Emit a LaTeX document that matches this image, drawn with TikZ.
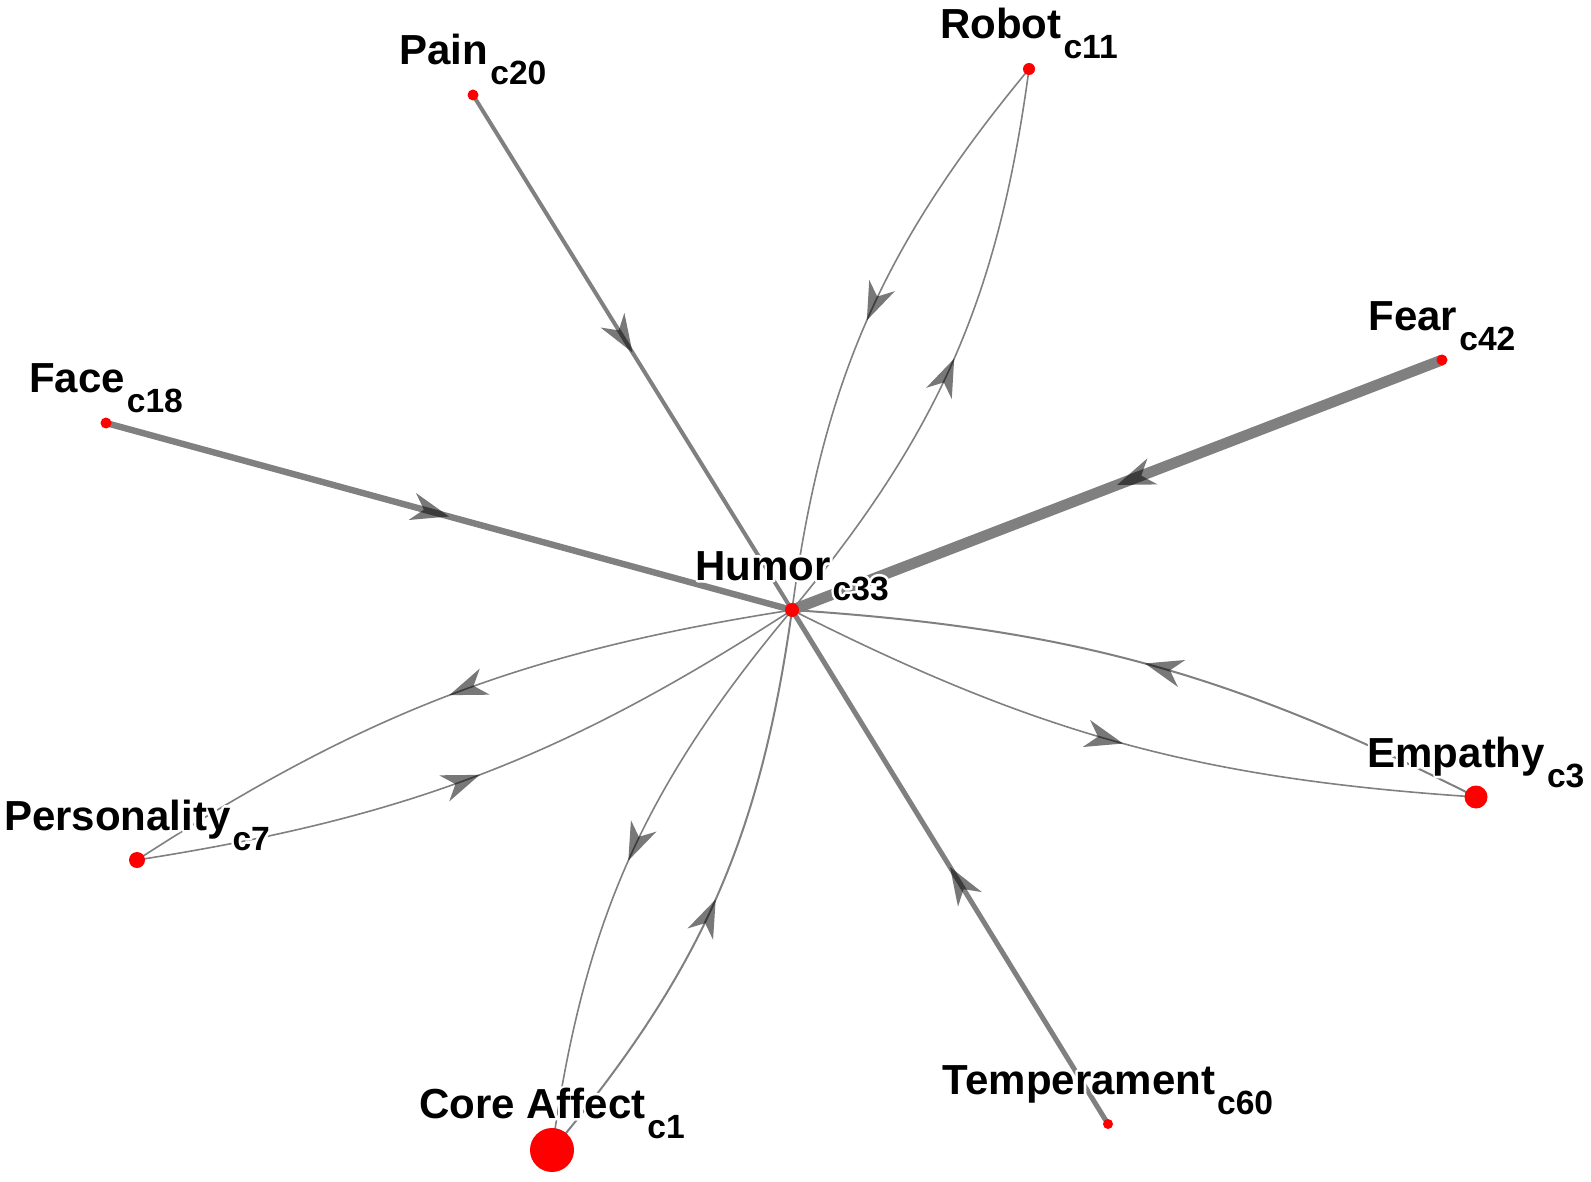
\documentclass[tikz,border=0pt]{standalone}
\usepackage{fontspec}
\setmainfont{Liberation Sans}
\usetikzlibrary{decorations.markings,backgrounds}
\newcommand\halo[1]{\leavevmode\rlap{\special{pdf:literal direct 1 Tr 2.6 w 1 j 1 1 1 RG}#1\special{pdf:literal direct 0 Tr}}#1}
\newcommand\mylab[2]{\halo{#1}\hspace{1pt}\raisebox{-10pt}{\fontsize{16.8}{20}\selectfont\halo{#2}}}
\tikzset{
 edge/.style={draw=black!50},
 mid/.style={postaction={decorate}, decoration={markings, mark=at position 0.5 with {\fill[black, fill opacity=0.53] (0pt,0pt) -- (-19pt,7pt) -- (-13pt,0pt) -- (-19pt,-7pt) -- cycle;}}},
 vtx/.style={circle, fill=red, inner sep=0pt, minimum size=#1},
 lbl/.style={anchor=base, inner sep=0pt, font=\bfseries\fontsize{21}{25}\selectfont},
}
\begin{document}
\begin{tikzpicture}[x=0.5pt,y=-0.5pt]
\path[use as bounding box] (0,0) rectangle (1591,1182);
% vertices
\node[vtx=7pt] (humor) at (792,610) {};
\node[vtx=5.5pt] (pain) at (473,95) {};
\node[vtx=6pt] (robot) at (1029,69) {};
\node[vtx=5.5pt] (fear) at (1442,360) {};
\node[vtx=5.5pt] (face) at (106,423) {};
\node[vtx=8pt] (pers) at (137,860) {};
\node[vtx=11.5pt] (emp) at (1476,797) {};
\node[vtx=22pt] (core) at (552,1150) {};
\node[vtx=5pt] (temp) at (1108,1124) {};
% edges
\begin{scope}[on background layer]
\draw[edge, line width=5.4pt, mid] (fear.center) -- (humor.center);
\draw[edge, line width=3.2pt, mid] (face.center) -- (humor.center);
\draw[edge, line width=2pt, mid] (pain.center) -- (humor.center);
\draw[edge, line width=2.5pt, mid] (temp.center) -- (humor.center);
\draw[edge, line width=0.8pt, mid] (robot.center) to[bend right=16] (humor.center);
\draw[edge, line width=0.8pt, mid] (humor.center) to[bend right=16] (robot.center);
\draw[edge, line width=1pt, mid] (emp.center) to[bend right=11.5] (humor.center);
\draw[edge, line width=0.8pt, mid] (humor.center) to[bend right=11.5] (emp.center);
\draw[edge, line width=0.8pt, mid] (humor.center) to[bend right=12] (pers.center);
\draw[edge, line width=0.8pt, mid] (pers.center) to[bend right=12] (humor.center);
\draw[edge, line width=0.8pt, mid] (humor.center) to[bend right=16] (core.center);
\draw[edge, line width=1pt, mid] (core.center) to[bend right=16] (humor.center);
\end{scope}
% labels
\node[lbl] (humorL) at ([yshift=15pt]humor.center) {\mylab{Humor}{c33}};
\node[lbl] (painL) at ([yshift=15pt]pain.center) {\mylab{Pain}{c20}};
\node[lbl] (robotL) at ([yshift=15pt]robot.center) {\mylab{Robot}{c11}};
\node[lbl] (fearL) at ([yshift=15pt]fear.center) {\mylab{Fear}{c42}};
\node[lbl] (faceL) at ([yshift=15pt]face.center) {\mylab{Face}{c18}};
\node[lbl] (persL) at ([yshift=15pt]pers.center) {\mylab{Personality}{c7}};
\node[lbl] (empL) at ([yshift=15pt]emp.center) {\mylab{Empathy}{c3}};
\node[lbl] (coreL) at ([yshift=16pt]core.center) {\mylab{Core Affect}{c1}};
\node[lbl] (tempL) at ([yshift=15pt]temp.center) {\mylab{Temperament}{c60}};
\end{tikzpicture}
\end{document}
